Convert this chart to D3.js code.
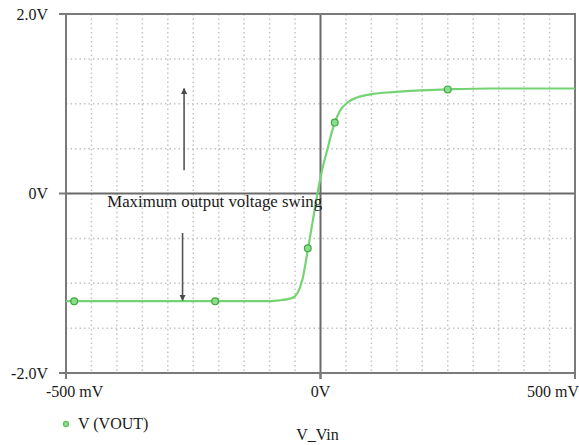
<!DOCTYPE html>
<html>
<head>
	<meta charset="utf-8">
	<title>VOUT vs V_Vin</title>
	<script src="https://cdnjs.cloudflare.com/ajax/libs/d3/7.8.5/d3.min.js"></script>
	<style>
		body { margin: 0; background: #fff; }
		text { font-family: "Liberation Serif", "Times New Roman", serif; fill: #1a1a1a; }
	</style>
</head>
<body>
	<div id="chartDiv"></div>
	<script>
		// transfer curve (mV, V)
		const vin  = [-500, -113, -80, -54, -36, -25, -15, -5, 3, 13, 23, 28, 38, 52, 72, 103, 142, 195, 248, 333, 500];
		const vout = [-1.20, -1.20, -1.19, -1.16, -0.97, -0.63, -0.30, 0.03, 0.26, 0.48, 0.70, 0.79, 0.92, 1.01, 1.07, 1.11, 1.13, 1.15, 1.16, 1.17, 1.17];

		// marker symbols on the trace
		const markVin  = [-484, -207, -25, 28, 250];
		const markVout = [-1.20, -1.20, -0.61, 0.79, 1.16];

		const xTicks = [-500, 0, 500];
		const xTickLabels = ['-500 mV', '0V', '500 mV'];
		const yTicks = [2, 0, -2];
		const yTickLabels = ['2.0V', '0V', '-2.0V'];
		const xGrid = [-450, -400, -350, -300, -250, -200, -150, -100, -50, 50, 100, 150, 200, 250, 300, 350, 400, 450];
		const yGrid = [1.5, 1.0, 0.5, -0.5, -1.0, -1.5];

		const seriesName = 'V (VOUT)';
		const xLabel = 'V_Vin';
		const noteText = 'Maximum output voltage swing';

		const width = 579, height = 445;
		const margin = { left: 66, right: 4, top: 14, bottom: 72 };
		const innerW = width - margin.left - margin.right;
		const innerH = height - margin.top - margin.bottom;

		const svg = d3.select('#chartDiv').append('svg')
			.attr('width', width)
			.attr('height', height);
		const g = svg.append('g').attr('transform', `translate(${margin.left},${margin.top})`);

		const xScale = d3.scaleLinear().domain([-500, 500]).range([0, innerW]);
		const yScale = d3.scaleLinear().domain([-2, 2]).range([innerH, 0]);

		// dotted grid
		g.selectAll('.xg').data(xGrid).enter().append('line')
			.attr('x1', d => xScale(d)).attr('x2', d => xScale(d))
			.attr('y1', 0).attr('y2', innerH)
			.attr('stroke', '#c4c4c4').attr('stroke-width', 1.5)
			.attr('stroke-dasharray', '1.5,3');
		g.selectAll('.yg').data(yGrid).enter().append('line')
			.attr('y1', d => yScale(d)).attr('y2', d => yScale(d))
			.attr('x1', 0).attr('x2', innerW)
			.attr('stroke', '#c4c4c4').attr('stroke-width', 1.5)
			.attr('stroke-dasharray', '1.5,3');

		// zero lines
		g.append('line')
			.attr('x1', xScale(0)).attr('x2', xScale(0))
			.attr('y1', 0).attr('y2', innerH + 6)
			.attr('stroke', '#6a6a6a').attr('stroke-width', 2);
		g.append('line')
			.attr('x1', 0).attr('x2', innerW)
			.attr('y1', yScale(0)).attr('y2', yScale(0))
			.attr('stroke', '#6a6a6a').attr('stroke-width', 2);

		// frame
		g.append('rect')
			.attr('x', 0).attr('y', 0)
			.attr('width', innerW).attr('height', innerH)
			.attr('fill', 'none')
			.attr('stroke', '#7a7a7a').attr('stroke-width', 2);

		// tick stubs
		g.selectAll('.ytick').data(yTicks).enter().append('line')
			.attr('x1', -7).attr('x2', 0)
			.attr('y1', d => yScale(d)).attr('y2', d => yScale(d))
			.attr('stroke', '#7a7a7a').attr('stroke-width', 2);
		g.selectAll('.xtick').data(xTicks).enter().append('line')
			.attr('x1', d => xScale(d)).attr('x2', d => xScale(d))
			.attr('y1', innerH).attr('y2', innerH + 6)
			.attr('stroke', '#7a7a7a').attr('stroke-width', 2);

		// tick labels
		g.selectAll('.ylab').data(yTicks).enter().append('text')
			.attr('x', -18)
			.attr('y', d => yScale(d))
			.attr('dy', '0.35em')
			.attr('text-anchor', 'end')
			.style('font-size', '16px')
			.text((d, i) => yTickLabels[i]);
		g.selectAll('.xlab').data(xTicks).enter().append('text')
			.attr('x', (d, i) => xScale(d) + (i === 0 ? -20 : i === 2 ? 4 : 0))
			.attr('y', innerH + 24)
			.attr('text-anchor', (d, i) => i === 0 ? 'start' : i === 2 ? 'end' : 'middle')
			.style('font-size', '16px')
			.text((d, i) => xTickLabels[i]);

		// trace
		const pts = vin.map((v, i) => [v, vout[i]]);
		const line = d3.line()
			.x(d => xScale(d[0]))
			.y(d => yScale(d[1]))
			.curve(d3.curveMonotoneX);
		g.append('path')
			.datum(pts)
			.attr('d', line)
			.attr('fill', 'none')
			.attr('stroke', '#74d474')
			.attr('stroke-width', 2.2);

		g.selectAll('.mk').data(markVin).enter().append('circle')
			.attr('cx', d => xScale(d))
			.attr('cy', (d, i) => yScale(markVout[i]))
			.attr('r', 3.4)
			.attr('fill', '#8ddc8d')
			.attr('stroke', '#3fa83f')
			.attr('stroke-width', 1.2);

		// annotation arrows
		const defs = svg.append('defs');
		defs.append('marker')
			.attr('id', 'ah')
			.attr('viewBox', '0 0 10 10')
			.attr('refX', 9).attr('refY', 5)
			.attr('markerWidth', 4).attr('markerHeight', 5)
			.attr('orient', 'auto')
			.append('path')
			.attr('d', 'M0,0 L10,5 L0,10 z')
			.attr('fill', '#4a4a4a');

		const arrows = [
			{ x: -268, y0: 0.26, y1: 1.17 },
			{ x: -271, y0: -0.44, y1: -1.19 }
		];
		g.selectAll('.arrow').data(arrows).enter().append('line')
			.attr('x1', d => xScale(d.x)).attr('x2', d => xScale(d.x))
			.attr('y1', d => yScale(d.y0)).attr('y2', d => yScale(d.y1))
			.attr('stroke', '#555').attr('stroke-width', 1.6)
			.attr('marker-end', 'url(#ah)');

		g.append('text')
			.attr('x', xScale(-419))
			.attr('y', yScale(0) + 13)
			.style('font-size', '16.8px')
			.text(noteText);

		// legend and x label
		svg.append('circle')
			.attr('cx', margin.left).attr('cy', 424)
			.attr('r', 2.6)
			.attr('fill', '#8ddc8d')
			.attr('stroke', '#62c062')
			.attr('stroke-width', 1.2);
		svg.append('text')
			.attr('x', margin.left + 12).attr('y', 429)
			.style('font-size', '16px')
			.text(seriesName);
		svg.append('text')
			.attr('x', margin.left + xScale(0) - 3).attr('y', 440)
			.attr('text-anchor', 'middle')
			.style('font-size', '16px')
			.text(xLabel);
	</script>
</body>
</html>
